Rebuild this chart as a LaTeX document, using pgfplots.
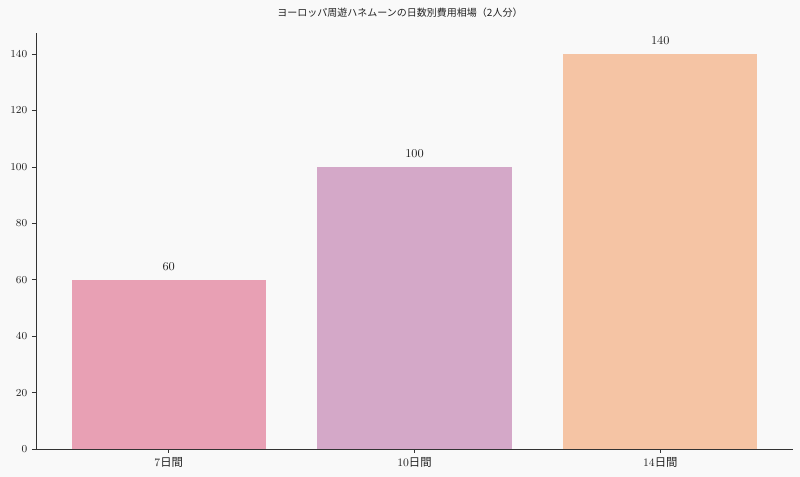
\documentclass[border=0pt]{standalone}
\usepackage{fontspec}
\usepackage{pgfplots}
\pgfplotsset{compat=1.18}
\newfontfamily\jp{Noto Sans CJK JP}
\definecolor{bgc}{HTML}{F9F9F9}
\definecolor{axc}{HTML}{333333}
\definecolor{txc}{HTML}{222222}
\definecolor{c1}{HTML}{E8A0B4}
\definecolor{c2}{HTML}{D4A8C8}
\definecolor{c3}{HTML}{F5C4A4}
\begin{document}
\begin{tikzpicture}[x=1pt,y=1pt]
\fill[bgc] (0,0) rectangle (600,357.75);
\useasboundingbox (0,0) rectangle (600,357.75);
\node[font=\jp\fontsize{7.5}{9}\selectfont, text=txc] at (300,348) {ヨーロッパ周遊ハネムーンの日数別費用相場（2人分）};
\begin{axis}[at={(27pt,21pt)}, anchor=south west, width=567.75pt, height=312pt, scale only axis,
  axis lines*=left, axis line style={axc, line width=0.7pt},
  ymin=0, ymax=147.5, xmin=-0.54, xmax=2.54,
  xtick={0,1,2}, xticklabels={7{\jp 日間},10{\jp 日間},14{\jp 日間}},
  ytick={0,20,40,60,80,100,120,140},
  tick align=outside, tick style={axc, line width=0.6pt}, major tick length=3pt,
  ticklabel style={font=\fontsize{8.5}{10}\selectfont, text=txc},
  ybar, bar width=0.79, bar shift=0pt,
  nodes near coords, every node near coord/.append style={font=\fontsize{9.5}{11}\selectfont, text=txc, yshift=3.5pt},
  clip=false]
\addplot[draw=none, fill=c1] coordinates {(0,60)};
\addplot[draw=none, fill=c2] coordinates {(1,100)};
\addplot[draw=none, fill=c3] coordinates {(2,140)};
\end{axis}
\end{tikzpicture}
\end{document}
